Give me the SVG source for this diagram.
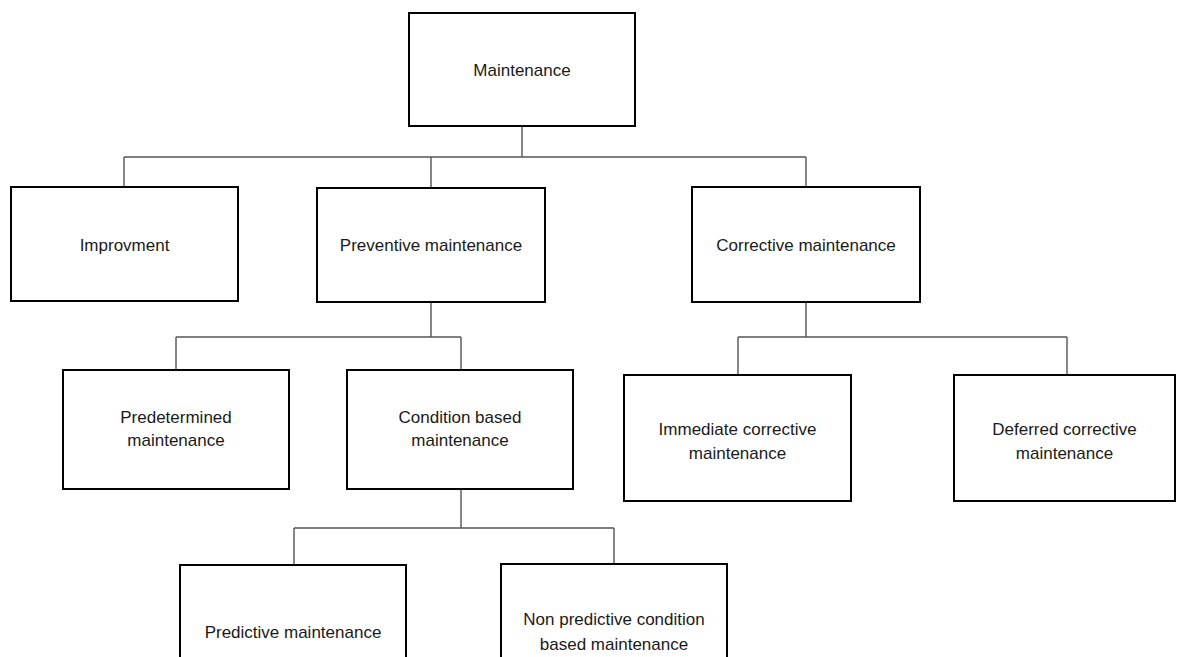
<svg xmlns="http://www.w3.org/2000/svg" width="1178" height="657" viewBox="0 0 1178 657">
<style>
.box{fill:#fff;stroke:#000;stroke-width:2}
.lbl{font-family:"Liberation Sans",Arial,sans-serif;font-size:17px;fill:#1a1a1a;text-anchor:middle}
.con{fill:none;stroke:#555;stroke-width:1.4}
</style>
<rect width="1178" height="657" fill="#fff"/>
<g id="connectors">
<path class="con" d="M522,126V157M124,157H806M124,157V187M431,157V188M806,157V187"/>
<path class="con" d="M431,302V337M176,337H461M176,337V370M461,337V370"/>
<path class="con" d="M806,302V337M738,337H1067M738,337V375M1067,337V375"/>
<path class="con" d="M461,489V528M294,528H614M294,528V565M614,528V564"/>
</g>
<g id="n-maintenance"><rect class="box" x="409" y="13" width="226" height="113"/><text class="lbl" x="522" y="76">Maintenance</text></g>
<g id="n-improvment"><rect class="box" x="11" y="187" width="227" height="114"/><text class="lbl" x="124.5" y="251">Improvment</text></g>
<g id="n-preventive"><rect class="box" x="317" y="188" width="228" height="114"/><text class="lbl" x="431" y="251">Preventive maintenance</text></g>
<g id="n-corrective"><rect class="box" x="692" y="187" width="228" height="115"/><text class="lbl" x="806" y="251">Corrective maintenance</text></g>
<g id="n-predetermined"><rect class="box" x="63" y="370" width="226" height="119"/><text class="lbl" x="176" y="423">Predetermined</text><text class="lbl" x="176" y="446">maintenance</text></g>
<g id="n-condition"><rect class="box" x="347" y="370" width="226" height="119"/><text class="lbl" x="460" y="423">Condition based</text><text class="lbl" x="460" y="446">maintenance</text></g>
<g id="n-immediate"><rect class="box" x="624" y="375" width="227" height="126"/><text class="lbl" x="737.5" y="435">Immediate corrective</text><text class="lbl" x="737.5" y="459">maintenance</text></g>
<g id="n-deferred"><rect class="box" x="954" y="375" width="221" height="126"/><text class="lbl" x="1064.5" y="435">Deferred corrective</text><text class="lbl" x="1064.5" y="459">maintenance</text></g>
<g id="n-predictive"><rect class="box" x="180" y="565" width="226" height="140"/><text class="lbl" x="293" y="638">Predictive maintenance</text></g>
<g id="n-nonpredictive"><rect class="box" x="501" y="564" width="226" height="140"/><text class="lbl" x="614" y="625">Non predictive condition</text><text class="lbl" x="614" y="650">based maintenance</text></g>
</svg>
